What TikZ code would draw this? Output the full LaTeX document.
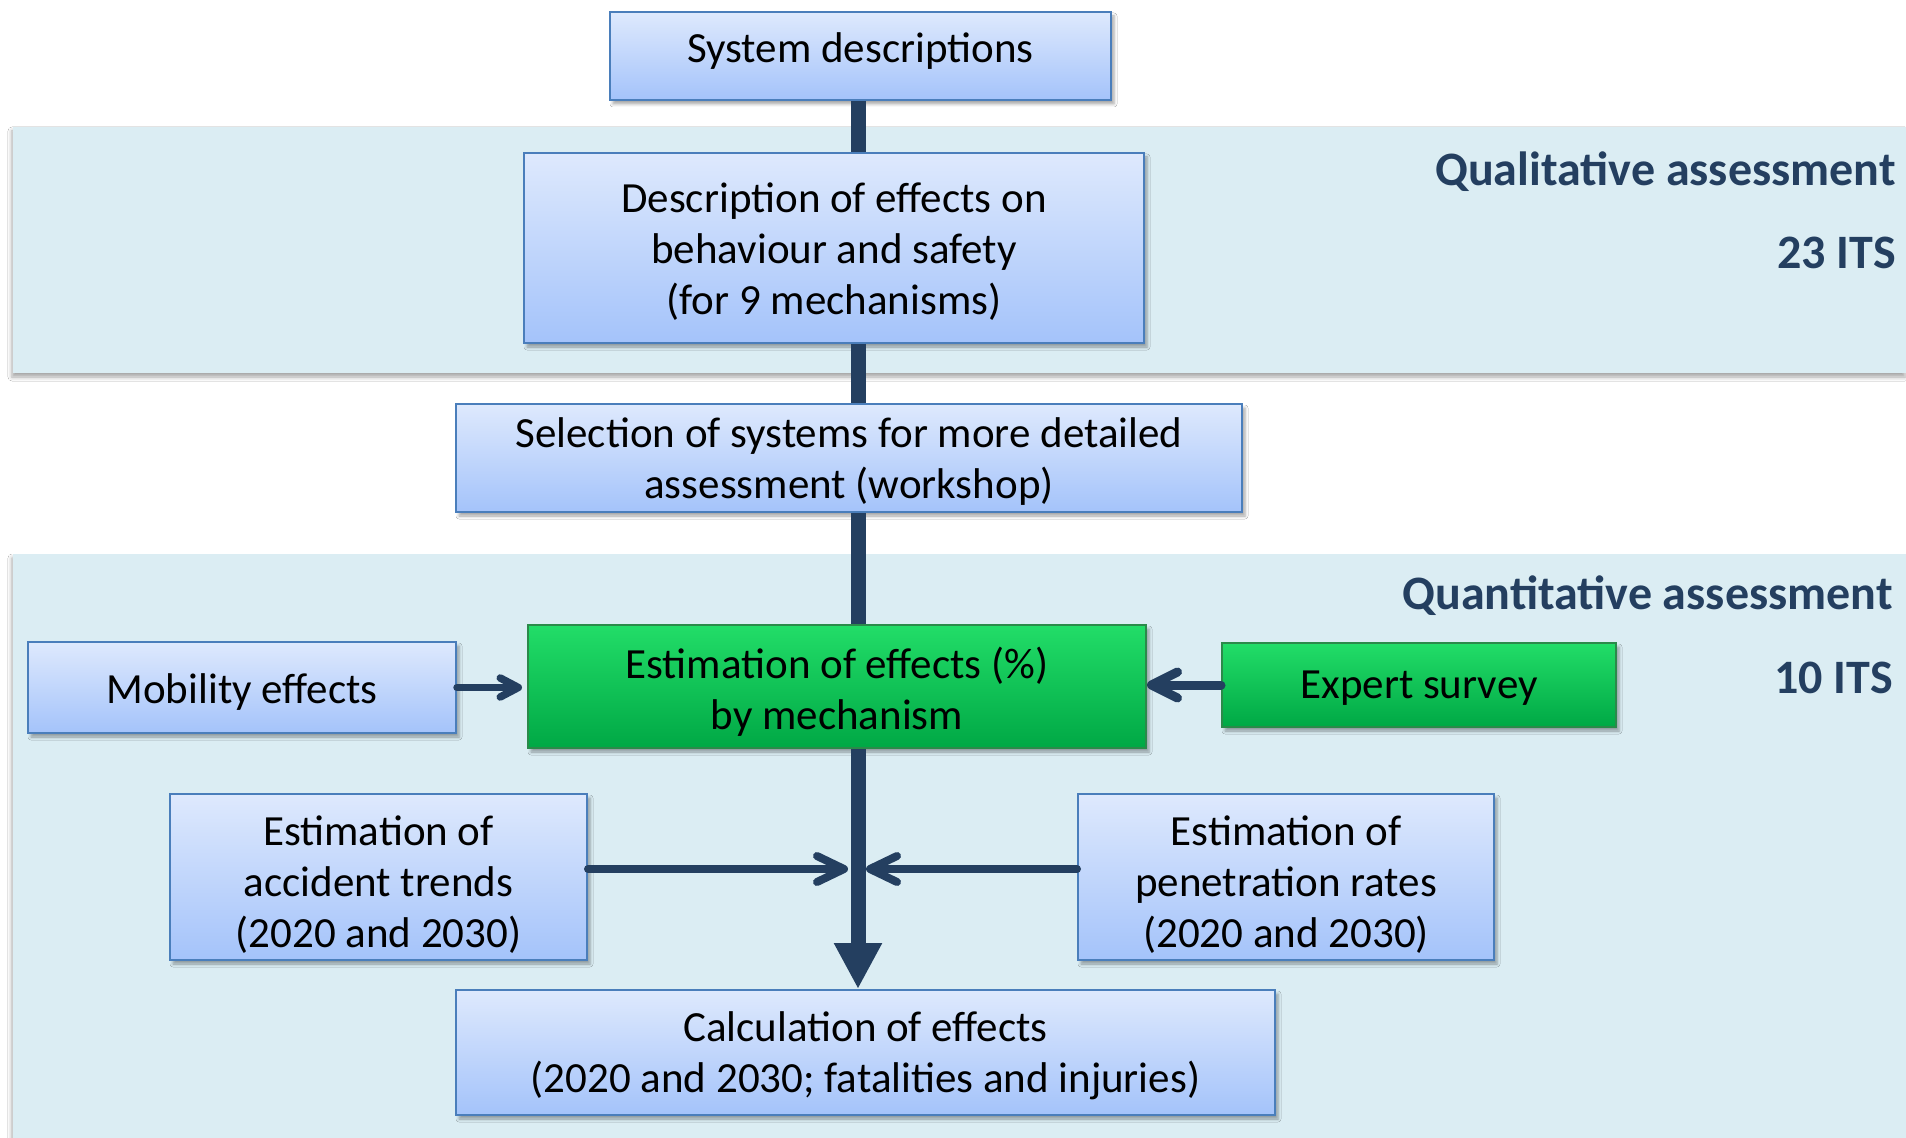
\documentclass[tikz,border=0pt]{standalone}
\usepackage{fontspec}
\setmainfont{Carlito}
\usetikzlibrary{arrows.meta,shadows.blur}
\definecolor{bandfill}{HTML}{DBEDF3}
\definecolor{boxtop}{HTML}{DEE9FD}
\definecolor{boxbot}{HTML}{A4C3FA}
\definecolor{boxline}{HTML}{4A7EBB}
\definecolor{greentop}{HTML}{22DD68}
\definecolor{greenbot}{HTML}{00A845}
\definecolor{greenline}{HTML}{2B8A4A}
\definecolor{navy}{HTML}{243F60}

\begin{document}
\begin{tikzpicture}[x=0.5pt,y=-0.5pt,
  band/.style={fill=bandfill, draw=none,
    blur shadow={shadow xshift=-0.5pt, shadow yshift=-2pt, shadow blur radius=2pt, shadow opacity=35}},
  box/.style={rectangle, draw=boxline, line width=1pt, top color=boxtop, bottom color=boxbot,
    inner sep=0pt,
    blur shadow={shadow xshift=1.5pt, shadow yshift=-2pt, shadow blur radius=1.5pt, shadow opacity=35}},
  gbox/.style={box, draw=greenline, top color=greentop, bottom color=greenbot},
  txt/.style={inner sep=0pt, align=center, font=\fontsize{21.5}{25.5}\selectfont},
  head/.style={text=navy, font=\fontsize{24}{28}\selectfont\bfseries, inner sep=0pt, anchor=east},
  spine/.style={draw=navy, line width=7.5pt},
  feed/.style={draw=navy, line width=4pt, line cap=round,
    -{Straight Barb[length=13.5pt,width=13pt,round]}},
  feedsmall/.style={feed, line width=3.75pt, -{Straight Barb[length=9pt,width=9.5pt,round]}},
  feedbig/.style={feed, line width=4.5pt, -{Straight Barb[length=13pt,width=13pt,round]}}
]
\useasboundingbox (0,0) rectangle (1906,1138);
\fill[white] (0,0) rectangle (1906,1138);

% assessment bands
\path[band] (13,127) rectangle (1906,373);
\path[band] (13,554) rectangle (1906,1138);

\node[head] (qual)  at (1896,172) {Qualitative assessment};
\node[head] (qualn) at (1896,253) {23 ITS};
\node[head] (quan)  at (1893,596) {Quantitative assessment};
\node[head] (quann) at (1893,678) {10 ITS};

% x position of the main flow line
\coordinate (axis) at (858,0);

% process steps (frames)
\node[box, minimum width=250.5pt, minimum height=44pt] (sys) at (860.5,56) {};
\node[box, minimum width=310pt, minimum height=95pt] (desc) at (834,248) {};
\node[box, minimum width=393pt, minimum height=54pt] (sel) at (849,458) {};
\node[box, minimum width=214pt, minimum height=45.5pt] (mob) at (242,687.5) {};
\node[gbox, minimum width=309pt, minimum height=61.5pt] (est) at (837,686.5) {};
\node[gbox, minimum width=197pt, minimum height=42pt] (exp) at (1419,685) {};
\node[box, minimum width=208.5pt, minimum height=83pt] (acc) at (378.5,877) {};
\node[box, minimum width=208pt, minimum height=83pt] (pen) at (1286,877) {};
\node[box, minimum width=409.5pt, minimum height=62.5pt] (calc) at (865.5,1052.5) {};

% process steps (labels)
\node[txt] (sys-t)  at ([yshift=2.4pt]sys.center) {System descriptions};
\node[txt] (desc-t) at ([yshift=-1.8pt]desc.center)
  {Description of effects on\\behaviour and safety\\(for 9 mechanisms)};
\node[txt] (sel-t)  at ([yshift=-1.8pt]sel.center)
  {Selection of systems for more detailed\\assessment (workshop)};
\node[txt] (mob-t)  at ([yshift=-2.4pt]mob.center) {Mobility effects};
\node[txt] (est-t)  at ([yshift=-2.4pt]est.center) {Estimation of effects (\%)\\by mechanism};
\node[txt] (exp-t)  at ([yshift=-1.8pt]exp.center) {Expert survey};
\node[txt] (acc-t)  at ([yshift=-3.6pt]acc.center) {Estimation of\\accident trends\\(2020 and 2030)};
\node[txt] (pen-t)  at ([yshift=-3.6pt]pen.center) {Estimation of\\penetration rates\\(2020 and 2030)};
\node[txt] (calc-t) at ([yshift=-1.8pt]calc.center)
  {Calculation of effects\\(2020 and 2030; fatalities and injuries)};

% main flow
\draw[spine] (sys.south -| axis) -- (desc.north -| axis);
\draw[spine] (desc.south -| axis) -- (sel.north -| axis);
\draw[spine] (sel.south -| axis) -- (est.north -| axis);
\draw[spine, -{Triangle[length=23pt,width=22.5pt]}] (est.south -| axis) -- (calc.north -| axis);

% inputs
\draw[feedsmall, shorten >=2.5pt] (mob.east) -- (mob.east -| est.west);
\draw[feedbig] (exp.west) -- (exp.west -| est.east);
\draw[feed] ([yshift=4pt]acc.east) -- ([xshift=-5pt,yshift=4pt]acc.east -| axis);
\draw[feed] ([yshift=4pt]pen.west) -- ([xshift=4pt,yshift=4pt]pen.west -| axis);
\end{tikzpicture}
\end{document}
